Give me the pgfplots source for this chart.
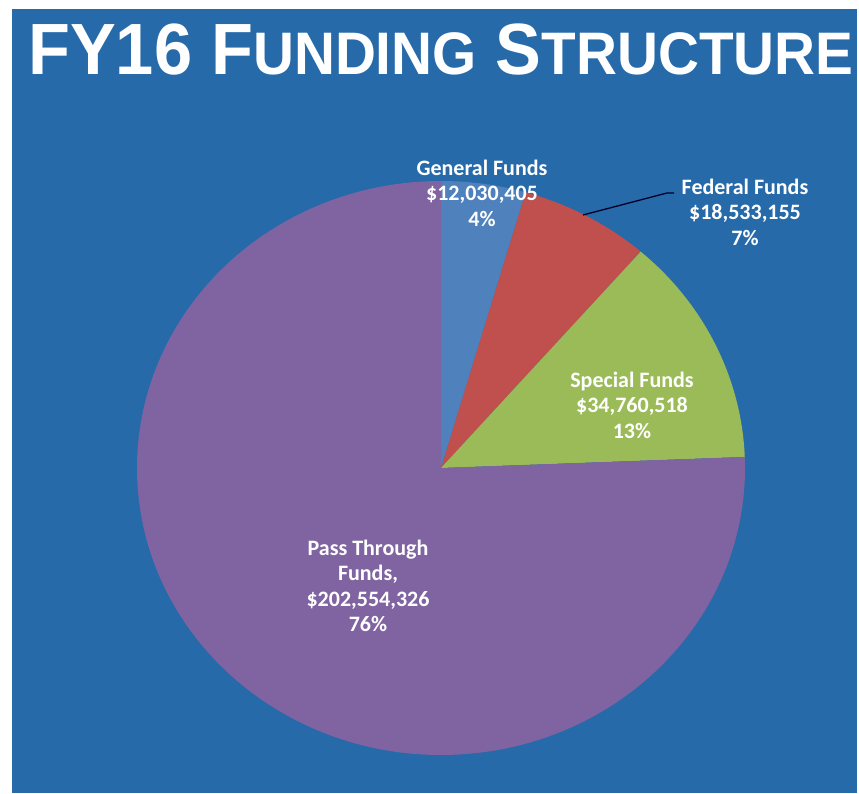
\documentclass[border=0pt]{standalone}
\usepackage{pgfplots}
\usepackage{pgfplotstable}
\pgfplotsset{compat=1.18}
\usepackage{fontspec}
\setmainfont{Carlito}
\newfontfamily\titlefont{Liberation Sans}
\definecolor{bgblue}{RGB}{38,106,170}
\definecolor{sGen}{RGB}{79,129,189}
\definecolor{sFed}{RGB}{192,80,77}
\definecolor{sSpe}{RGB}{155,187,89}
\definecolor{sPas}{RGB}{128,100,162}
% values in millions of dollars
\pgfplotstableread{
name value
General 12.030405
Federal 18.533155
Special 34.760518
Pass 202.554326
}\fundtable
\begin{document}
\begin{tikzpicture}
\pgfplotstablegetelem{0}{value}\of\fundtable\pgfmathsetmacro\vA{\pgfplotsretval}
\pgfplotstablegetelem{1}{value}\of\fundtable\pgfmathsetmacro\vB{\pgfplotsretval}
\pgfplotstablegetelem{2}{value}\of\fundtable\pgfmathsetmacro\vC{\pgfplotsretval}
\pgfplotstablegetelem{3}{value}\of\fundtable\pgfmathsetmacro\vD{\pgfplotsretval}
\pgfmathsetmacro\total{\vA+\vB+\vC+\vD}
\pgfmathsetmacro\aA{90}
\pgfmathsetmacro\aB{90-360*\vA/\total}
\pgfmathsetmacro\aC{\aB-360*\vB/\total}
\pgfmathsetmacro\aD{\aC-360*\vC/\total}
\pgfmathsetmacro\aE{-270}
\begin{axis}[x=1pt, y=1pt, xmin=0, xmax=859, ymin=0, ymax=793,
  hide axis, clip=false, scale only axis]
\fill[white] (axis cs:0,0) rectangle (axis cs:859,793);
\fill[bgblue] (axis cs:12,0) rectangle (axis cs:857,784);
% pie slices
\fill[sGen] (axis cs:441,325) -- ++(\aA:304pt and 287pt) arc[start angle=\aA, end angle=\aB, x radius=304pt, y radius=287pt] -- cycle;
\fill[sFed] (axis cs:441,325) -- ++(\aB:304pt and 287pt) arc[start angle=\aB, end angle=\aC, x radius=304pt, y radius=287pt] -- cycle;
\fill[sSpe] (axis cs:441,325) -- ++(\aC:304pt and 287pt) arc[start angle=\aC, end angle=\aD, x radius=304pt, y radius=287pt] -- cycle;
\fill[sPas] (axis cs:441,325) -- ++(\aD:304pt and 287pt) arc[start angle=\aD, end angle=\aE, x radius=304pt, y radius=287pt] -- cycle;
% leader line
\draw[black!85!blue, line width=1.3pt] (axis cs:583,578) -- (axis cs:667,600) -- (axis cs:674,600);
% title
\node[anchor=base west, text=white, inner sep=0pt, xscale=0.945, transform shape]
  at (axis cs:28,718) {\titlefont\bfseries\fontsize{72.6}{72.6}\selectfont FY16 F{\fontsize{60}{60}\selectfont UNDING} S{\fontsize{60}{60}\selectfont TRUCTURE}};
% labels
\tikzset{lbl/.style={text=white, align=center, inner sep=0pt, font=\bfseries\fontsize{22}{25.5}\selectfont}}
\node[lbl] at (axis cs:482,600) {General Funds\\\$12,030,405\\4\%};
\node[lbl] at (axis cs:745,581) {Federal Funds\\\$18,533,155\\7\%};
\node[lbl] at (axis cs:632,388) {Special Funds\\\$34,760,518\\13\%};
\node[lbl] at (axis cs:368,207) {Pass Through\\Funds,\\\$202,554,326\\76\%};
\end{axis}
\end{tikzpicture}
\end{document}
